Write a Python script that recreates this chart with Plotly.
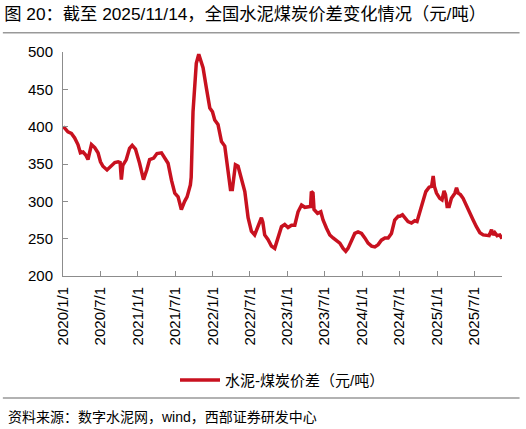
import plotly.graph_objects as go

# 水泥-煤炭价差（元/吨）
dates = [
    "2020-01-03", "2020-01-25", "2020-02-11", "2020-02-27", "2020-03-14", "2020-03-26",
    "2020-04-08", "2020-04-21", "2020-05-02", "2020-05-19", "2020-06-04", "2020-06-20",
    "2020-07-02", "2020-07-14", "2020-08-03", "2020-08-24", "2020-09-10", "2020-09-26",
    "2020-10-06", "2020-10-12", "2020-10-19", "2020-11-05", "2020-11-21", "2020-12-04",
    "2020-12-20", "2021-01-09", "2021-01-28", "2021-02-13", "2021-02-27", "2021-03-19",
    "2021-04-04", "2021-04-26", "2021-05-12", "2021-05-28", "2021-06-14", "2021-06-30",
    "2021-07-16", "2021-08-01", "2021-08-17", "2021-08-29", "2021-09-14", "2021-09-18",
    "2021-09-27", "2021-10-05", "2021-10-13", "2021-10-25", "2021-11-07", "2021-11-15",
    "2021-12-01", "2021-12-18", "2021-12-31", "2022-01-11", "2022-01-27", "2022-02-13",
    "2022-03-01", "2022-03-17", "2022-03-29", "2022-04-07", "2022-04-22", "2022-05-05",
    "2022-05-21", "2022-06-07", "2022-06-23", "2022-07-09", "2022-07-25", "2022-08-11",
    "2022-08-27", "2022-09-03", "2022-09-12", "2022-09-28", "2022-10-15", "2022-10-31",
    "2022-11-16", "2022-12-03", "2022-12-19", "2023-01-04", "2023-01-21", "2023-02-06",
    "2023-02-22", "2023-03-11", "2023-03-27", "2023-04-12", "2023-04-24", "2023-04-28",
    "2023-05-06", "2023-05-11", "2023-05-28", "2023-06-13", "2023-06-24", "2023-07-11",
    "2023-07-27", "2023-08-12", "2023-08-29", "2023-09-14", "2023-09-30", "2023-10-13",
    "2023-10-24", "2023-11-10", "2023-11-26", "2023-12-12", "2023-12-29", "2024-01-14",
    "2024-01-30", "2024-02-16", "2024-03-03", "2024-03-19", "2024-04-04", "2024-04-21",
    "2024-05-07", "2024-05-23", "2024-06-08", "2024-06-25", "2024-07-03", "2024-07-16",
    "2024-07-27", "2024-08-12", "2024-08-29", "2024-09-14", "2024-09-25", "2024-10-08",
    "2024-10-25", "2024-11-07", "2024-11-23", "2024-12-05", "2024-12-13", "2024-12-19",
    "2024-12-29", "2025-01-14", "2025-01-25", "2025-02-04", "2025-02-11", "2025-02-19",
    "2025-03-01", "2025-03-12", "2025-03-29", "2025-04-06", "2025-04-14", "2025-04-25",
    "2025-05-08", "2025-05-25", "2025-06-10", "2025-06-26", "2025-07-12", "2025-07-29",
    "2025-08-14", "2025-08-30", "2025-09-12", "2025-09-24", "2025-10-02", "2025-10-10",
    "2025-10-21", "2025-11-03", "2025-11-14",
]
spread = [
    400, 393, 391, 385, 376, 365,
    366, 362, 356, 376, 372, 365,
    353, 347, 342, 347, 352, 353,
    352, 329, 348, 356, 371, 375,
    370, 351, 329, 342, 356, 358,
    364, 365, 358, 351, 328, 311,
    306, 289, 300, 306, 322, 332,
    420, 460, 485, 497, 487, 479,
    452, 425, 420, 409, 403, 380,
    374, 345, 316, 316, 349, 347,
    331, 313, 278, 260, 255, 266,
    278, 272, 255, 249, 240, 237,
    251, 266, 269, 265, 268, 268,
    286, 295, 292, 293, 293, 313,
    311, 289, 284, 286, 275, 264,
    255, 251, 248, 244, 237, 233,
    237, 248, 257, 259, 257, 251,
    244, 240, 239, 242, 248, 251,
    251, 257, 275, 280, 280, 282,
    278, 273, 271, 274, 273, 286,
    300, 313, 319, 320, 334, 320,
    311, 304, 302, 314, 309, 293,
    293, 304, 311, 318, 311, 309,
    304, 293, 284, 275, 266, 258,
    255, 255, 254, 262, 255, 258,
    254, 255, 250,
]

tick_vals = ["2020-01-01", "2020-07-01", "2021-01-01", "2021-07-01", "2022-01-01", "2022-07-01",
             "2023-01-01", "2023-07-01", "2024-01-01", "2024-07-01", "2025-01-01", "2025-07-01"]
tick_text = ["2020/1/1", "2020/7/1", "2021/1/1", "2021/7/1", "2022/1/1", "2022/7/1",
             "2023/1/1", "2023/7/1", "2024/1/1", "2024/7/1", "2025/1/1", "2025/7/1"]

FONT = "Liberation Sans, Arial, Noto Sans CJK SC"
RED = "#C8111F"
AXIS = "#8C8C8C"

fig = go.Figure()
fig.add_trace(go.Scatter(
    x=dates, y=spread, mode="lines",
    name="水泥-煤炭价差（元/吨）",
    line=dict(color=RED, width=3.5),
))

fig.update_layout(
    width=526, height=429,
    margin=dict(l=63, r=24, t=52, b=153),
    paper_bgcolor="white", plot_bgcolor="white",
    font=dict(family=FONT, size=15, color="black"),
    title=dict(
        text="图 20：截至 2025/11/14，全国水泥煤炭价差变化情况（元/吨）",
        xref="container", yref="container", x=0.008, y=0.967,
        xanchor="left", yanchor="middle",
        font=dict(size=17.3, color="black"),
    ),
    showlegend=True,
    legend=dict(
        orientation="h", x=0.5, y=-0.465, xanchor="center", yanchor="middle",
        font=dict(size=15), itemwidth=40,
    ),
)

fig.update_xaxes(
    type="date", range=["2020-01-01", "2025-11-14"],
    tickvals=tick_vals, ticktext=tick_text, tickangle=-90,
    showgrid=False, zeroline=False,
    showline=True, linecolor=AXIS, linewidth=1,
    ticks="inside", ticklen=5, tickcolor=AXIS,
    ticklabelstandoff=4,
)
fig.update_yaxes(
    range=[200, 500], dtick=50,
    showgrid=False, zeroline=False,
    showline=True, linecolor=AXIS, linewidth=1,
    ticks="inside", ticklen=5, tickcolor=AXIS,
    ticklabelstandoff=6,
)

# 标题下方与来源上方的分隔线
fig.add_shape(type="line", xref="paper", yref="paper",
              x0=-0.137, x1=1.04, y0=1.086, y1=1.086,
              line=dict(color="#999999", width=1.5))
fig.add_shape(type="line", xref="paper", yref="paper",
              x0=-0.137, x1=1.04, y0=-0.545, y1=-0.545,
              line=dict(color="#999999", width=1.5))

fig.add_annotation(
    text="资料来源：数字水泥网，wind，西部证券研发中心",
    xref="paper", yref="paper", x=-0.13, y=-0.63,
    xanchor="left", yanchor="middle", showarrow=False,
    font=dict(size=14, color="black"),
)

# 去掉页面默认的 8px 边距和工具栏
fig.write_html("out.html", config={"displayModeBar": False},
               post_script="document.body.style.margin='0';")
